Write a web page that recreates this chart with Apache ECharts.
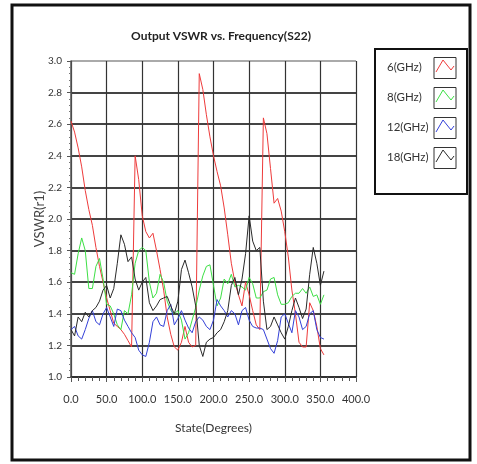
<!DOCTYPE html>
<html>
<head>
<meta charset="utf-8">
<title>Output VSWR vs. Frequency(S22)</title>
<script src="https://cdn.jsdelivr.net/npm/echarts@6/dist/echarts.min.js"></script>
<style>
  html, body { margin: 0; padding: 0; background: #fff; }
  #chart { width: 477px; height: 464px; }
</style>
</head>
<body>
<div id="chart"></div>
<script>
// state angle in degrees, one point every 5 degrees
const states = [0, 5, 10, 15, 20, 25, 30, 35, 40, 45, 50, 55, 60, 65, 70, 75, 80, 85, 90, 95,
  100, 105, 110, 115, 120, 125, 130, 135, 140, 145, 150, 155, 160, 165, 170, 175, 180, 185, 190, 195,
  200, 205, 210, 215, 220, 225, 230, 235, 240, 245, 250, 255, 260, 265, 270, 275, 280, 285, 290, 295,
  300, 305, 310, 315, 320, 325, 330, 335, 340, 345, 350, 355]

const vswr6 = [2.62, 2.55, 2.45, 2.33, 2.18, 2.06, 1.96, 1.82, 1.70, 1.60, 1.50, 1.42, 1.34, 1.32, 1.30, 1.27, 1.23, 1.19, 2.40, 2.25,
  2.02, 1.92, 1.88, 1.91, 1.80, 1.68, 1.55, 1.38, 1.27, 1.19, 1.17, 1.22, 1.32, 1.22, 1.19, 1.20, 2.92, 2.82, 2.66, 2.52,
  2.40, 2.30, 2.21, 2.07, 1.90, 1.72, 1.60, 1.52, 1.45, 1.60, 1.52, 1.42, 1.33, 1.30, 2.64, 2.54, 2.32, 2.10, 2.13, 2.05,
  1.92, 1.76, 1.55, 1.40, 1.22, 1.19, 1.19, 1.47, 1.42, 1.32, 1.18, 1.14]

const vswr8 = [1.66, 1.65, 1.78, 1.88, 1.80, 1.56, 1.56, 1.70, 1.75, 1.62, 1.46, 1.45, 1.40, 1.33, 1.30, 1.42, 1.40, 1.52, 1.72, 1.80,
  1.82, 1.80, 1.60, 1.50, 1.53, 1.65, 1.60, 1.48, 1.42, 1.40, 1.42, 1.36, 1.24, 1.28, 1.36, 1.44, 1.55, 1.64, 1.70, 1.71,
  1.58, 1.45, 1.50, 1.62, 1.59, 1.65, 1.57, 1.58, 1.57, 1.55, 1.63, 1.59, 1.50, 1.50, 1.54, 1.55, 1.62, 1.63, 1.52, 1.46,
  1.46, 1.47, 1.51, 1.53, 1.53, 1.56, 1.53, 1.57, 1.51, 1.52, 1.46, 1.52]

const vswr12 = [1.30, 1.32, 1.26, 1.24, 1.30, 1.37, 1.42, 1.35, 1.33, 1.40, 1.44, 1.38, 1.32, 1.43, 1.42, 1.36, 1.32, 1.28, 1.25, 1.17,
  1.14, 1.13, 1.22, 1.35, 1.38, 1.33, 1.32, 1.42, 1.46, 1.33, 1.37, 1.42, 1.36, 1.31, 1.28, 1.35, 1.38, 1.36, 1.32, 1.30,
  1.36, 1.49, 1.45, 1.42, 1.38, 1.42, 1.40, 1.33, 1.42, 1.44, 1.36, 1.32, 1.31, 1.31, 1.30, 1.24, 1.18, 1.15, 1.23, 1.38,
  1.40, 1.34, 1.28, 1.42, 1.38, 1.30, 1.32, 1.40, 1.42, 1.30, 1.25, 1.24]

const vswr18 = [1.30, 1.26, 1.38, 1.35, 1.41, 1.38, 1.42, 1.44, 1.48, 1.55, 1.58, 1.50, 1.56, 1.72, 1.90, 1.84, 1.73, 1.76, 1.62, 1.55,
  1.60, 1.63, 1.47, 1.42, 1.45, 1.49, 1.50, 1.51, 1.45, 1.40, 1.48, 1.68, 1.74, 1.66, 1.57, 1.45, 1.20, 1.13, 1.22, 1.24,
  1.25, 1.28, 1.30, 1.35, 1.42, 1.58, 1.63, 1.52, 1.62, 1.78, 2.02, 1.86, 1.80, 1.82, 1.48, 1.30, 1.32, 1.38, 1.33, 1.28,
  1.24, 1.32, 1.42, 1.50, 1.44, 1.37, 1.43, 1.65, 1.82, 1.72, 1.58, 1.67]

const seriesNames = ['6(GHz)', '8(GHz)', '12(GHz)', '18(GHz)']
const seriesColors = ['#ee3b3b', '#3ddf45', '#3340d8', '#2a2a2a']
const seriesValues = [vswr6, vswr8, vswr12, vswr18]

const FONT = 'Lato, "Liberation Sans", sans-serif'

const chart = echarts.init(document.getElementById('chart'))

// legend box drawn by hand, the original has a chevron picture next to each name
const legendItems = []
seriesNames.forEach(function (name, i) {
  const cy = 68 + i * 30
  legendItems.push({
    type: 'text',
    left: 387,
    top: cy - 7,
    style: { text: name, fill: '#333', font: '11.5px ' + FONT }
  })
  legendItems.push({
    type: 'rect',
    shape: { x: 434, y: cy - 10.5, width: 22, height: 21 },
    style: { fill: '#fff', stroke: '#333', lineWidth: 1 }
  })
  legendItems.push({
    type: 'polyline',
    shape: { points: [[436, cy + 4], [443, cy - 8], [451, cy + 2], [454, cy - 2]] },
    style: { stroke: seriesColors[i], lineWidth: 1, fill: null }
  })
})

const option = {
  animation: false,
  backgroundColor: '#fff',
  title: {
    text: 'Output VSWR vs. Frequency(S22)',
    left: 216,
    top: 25,
    textAlign: 'center',
    textStyle: { fontSize: 12, fontWeight: 'bold', color: '#222', fontFamily: FONT }
  },
  grid: { left: 71, top: 61, right: 121, bottom: 87 },
  xAxis: {
    type: 'value',
    min: 0,
    max: 400,
    interval: 50,
    name: 'State(Degrees)',
    nameLocation: 'middle',
    nameGap: 45,
    nameTextStyle: { fontSize: 12, color: '#333', fontFamily: FONT },
    axisLine: { show: true, lineStyle: { color: '#333', width: 1.5 } },
    axisTick: { show: true, length: 5, lineStyle: { color: '#555' } },
    minorTick: { show: true, splitNumber: 5, length: 4, lineStyle: { color: '#555' } },
    axisLabel: {
      margin: 17,
      fontSize: 11,
      color: '#333',
      fontFamily: FONT,
      formatter: function (v) { return v.toFixed(1) }
    },
    splitLine: { show: true, lineStyle: { color: '#333', width: 1.2 } }
  },
  yAxis: {
    type: 'value',
    min: 1.0,
    max: 3.0,
    interval: 0.2,
    name: 'VSWR(r1)',
    nameLocation: 'middle',
    nameGap: 25,
    nameMoveOverlap: false,
    nameTextStyle: { fontSize: 13, color: '#444', fontFamily: FONT },
    axisLine: { show: true, lineStyle: { color: '#555', width: 1.5 } },
    axisTick: { show: true, length: 4, lineStyle: { color: '#555' } },
    minorTick: { show: true, splitNumber: 5, length: 2, lineStyle: { color: '#777' } },
    axisLabel: {
      margin: 9,
      fontSize: 10,
      color: '#333',
      fontFamily: FONT,
      formatter: function (v) { return v.toFixed(1) }
    },
    splitLine: {
      show: true,
      lineStyle: {
        color: ['#333', '#444', '#444', '#444', '#444', '#444', '#444', '#444', '#444', '#444', '#aaa'],
        width: 2
      }
    }
  },
  legend: { show: false },
  series: seriesNames.map(function (name, i) {
    return {
      name: name,
      type: 'line',
      data: states.map(function (s, j) { return [s, seriesValues[i][j]] }),
      showSymbol: false,
      lineStyle: { color: seriesColors[i], width: 1 },
      itemStyle: { color: seriesColors[i] }
    }
  }),
  graphic: [
    {
      type: 'rect',
      shape: { x: 12, y: 5, width: 458, height: 455 },
      style: { fill: null, stroke: '#111', lineWidth: 3 },
      z: 100
    },
    {
      type: 'rect',
      shape: { x: 375, y: 49, width: 92, height: 145 },
      style: { fill: '#fff', stroke: '#111', lineWidth: 2 }
    }
  ].concat(legendItems)
}

chart.setOption(option)
</script>
</body>
</html>
